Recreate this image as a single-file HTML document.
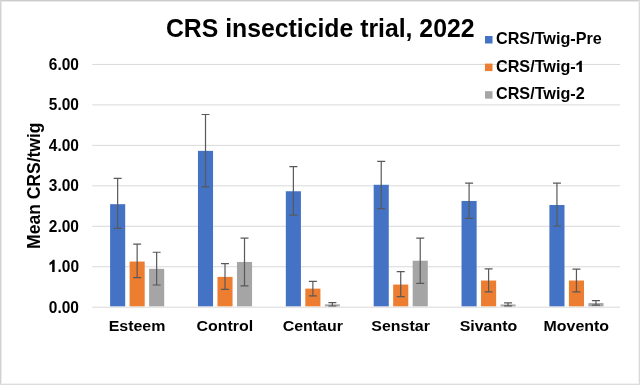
<!DOCTYPE html>
<html><head><meta charset="utf-8"><style>
html,body{margin:0;padding:0;background:#fff;}
svg{display:block;will-change:transform;}
text{font-family:"Liberation Sans",sans-serif;font-weight:bold;fill:#000;}
</style></head><body>
<svg width="640" height="385" viewBox="0 0 640 385">
<rect x="0" y="0" width="640" height="385" fill="#fff"/>
<line x1="92.3" y1="307.20" x2="620.2" y2="307.20" stroke="#D9D9D9" stroke-width="1"/>
<line x1="92.3" y1="266.74" x2="620.2" y2="266.74" stroke="#D9D9D9" stroke-width="1"/>
<line x1="92.3" y1="226.28" x2="620.2" y2="226.28" stroke="#D9D9D9" stroke-width="1"/>
<line x1="92.3" y1="185.82" x2="620.2" y2="185.82" stroke="#D9D9D9" stroke-width="1"/>
<line x1="92.3" y1="145.36" x2="620.2" y2="145.36" stroke="#D9D9D9" stroke-width="1"/>
<line x1="92.3" y1="104.90" x2="620.2" y2="104.90" stroke="#D9D9D9" stroke-width="1"/>
<line x1="92.3" y1="64.44" x2="620.2" y2="64.44" stroke="#D9D9D9" stroke-width="1"/>
<text transform="translate(79.00 312.70) scale(1.0 1.1)" text-anchor="end" font-size="15.5">0.00</text>
<text transform="translate(79.00 272.24) scale(1.0 1.1)" text-anchor="end" font-size="15.5">.00</text>
<path transform="translate(48.83 272.00) scale(15.500 -17.050)" d="M0.375 0.716V0H0.215V0.50C0.16 0.45 0.10 0.42 0.045 0.40V0.54C0.13 0.57 0.21 0.63 0.26 0.716Z" fill="#000"/>
<text transform="translate(79.00 231.78) scale(1.0 1.1)" text-anchor="end" font-size="15.5">2.00</text>
<text transform="translate(79.00 191.32) scale(1.0 1.1)" text-anchor="end" font-size="15.5">3.00</text>
<text transform="translate(79.00 150.86) scale(1.0 1.1)" text-anchor="end" font-size="15.5">4.00</text>
<text transform="translate(79.00 110.40) scale(1.0 1.1)" text-anchor="end" font-size="15.5">5.00</text>
<text transform="translate(79.00 69.94) scale(1.0 1.1)" text-anchor="end" font-size="15.5">6.00</text>
<rect x="110.10" y="204.18" width="15.1" height="102.12" fill="#4472C4"/>
<rect x="129.60" y="261.55" width="15.1" height="44.75" fill="#ED7D31"/>
<rect x="149.10" y="268.82" width="15.1" height="37.48" fill="#A5A5A5"/>
<path d="M117.65 178.33V228.42M113.65 178.33h8M113.65 228.42h8" stroke="#595959" stroke-width="1.2" fill="none"/>
<path d="M137.15 244.18V277.71M133.15 244.18h8M133.15 277.71h8" stroke="#595959" stroke-width="1.2" fill="none"/>
<path d="M156.65 252.26V284.98M152.65 252.26h8M152.65 284.98h8" stroke="#595959" stroke-width="1.2" fill="none"/>
<text transform="translate(137.03 331.00) scale(1.03 1.0)" text-anchor="middle" font-size="15.5">Esteem</text>
<rect x="197.96" y="150.86" width="15.1" height="155.44" fill="#4472C4"/>
<rect x="217.46" y="276.90" width="15.1" height="29.40" fill="#ED7D31"/>
<rect x="236.96" y="261.96" width="15.1" height="44.34" fill="#A5A5A5"/>
<path d="M205.51 114.50V186.81M201.51 114.50h8M201.51 186.81h8" stroke="#595959" stroke-width="1.2" fill="none"/>
<path d="M225.01 263.57V289.43M221.01 263.57h8M221.01 289.43h8" stroke="#595959" stroke-width="1.2" fill="none"/>
<path d="M244.51 238.12V285.79M240.51 238.12h8M240.51 285.79h8" stroke="#595959" stroke-width="1.2" fill="none"/>
<text transform="translate(224.89 331.00) scale(1.03 1.0)" text-anchor="middle" font-size="15.5">Control</text>
<rect x="285.82" y="191.26" width="15.1" height="115.04" fill="#4472C4"/>
<rect x="305.32" y="288.62" width="15.1" height="17.68" fill="#ED7D31"/>
<rect x="324.82" y="304.38" width="15.1" height="1.92" fill="#A5A5A5"/>
<path d="M293.37 166.61V215.09M289.37 166.61h8M289.37 215.09h8" stroke="#595959" stroke-width="1.2" fill="none"/>
<path d="M312.87 281.35V295.89M308.87 281.35h8M308.87 295.89h8" stroke="#595959" stroke-width="1.2" fill="none"/>
<path d="M332.37 302.56V305.99M328.37 302.56h8M328.37 305.99h8" stroke="#595959" stroke-width="1.2" fill="none"/>
<text transform="translate(312.75 331.00) scale(1.03 1.0)" text-anchor="middle" font-size="15.5">Centaur</text>
<rect x="373.68" y="184.79" width="15.1" height="121.51" fill="#4472C4"/>
<rect x="393.18" y="284.58" width="15.1" height="21.72" fill="#ED7D31"/>
<rect x="412.68" y="260.74" width="15.1" height="45.56" fill="#A5A5A5"/>
<path d="M381.23 161.36V208.63M377.23 161.36h8M377.23 208.63h8" stroke="#595959" stroke-width="1.2" fill="none"/>
<path d="M400.73 271.65V296.70M396.73 271.65h8M396.73 296.70h8" stroke="#595959" stroke-width="1.2" fill="none"/>
<path d="M420.23 238.12V283.37M416.23 238.12h8M416.23 283.37h8" stroke="#595959" stroke-width="1.2" fill="none"/>
<text transform="translate(400.61 331.00) scale(1.03 1.0)" text-anchor="middle" font-size="15.5">Senstar</text>
<rect x="461.54" y="200.95" width="15.1" height="105.35" fill="#4472C4"/>
<rect x="481.04" y="280.54" width="15.1" height="25.76" fill="#ED7D31"/>
<rect x="500.54" y="304.50" width="15.1" height="1.80" fill="#A5A5A5"/>
<path d="M469.09 183.18V218.32M465.09 183.18h8M465.09 218.32h8" stroke="#595959" stroke-width="1.2" fill="none"/>
<path d="M488.59 268.82V291.85M484.59 268.82h8M484.59 291.85h8" stroke="#595959" stroke-width="1.2" fill="none"/>
<path d="M508.09 302.96V305.79M504.09 302.96h8M504.09 305.79h8" stroke="#595959" stroke-width="1.2" fill="none"/>
<text transform="translate(488.47 331.00) scale(1.03 1.0)" text-anchor="middle" font-size="15.5">Sivanto</text>
<rect x="549.40" y="204.99" width="15.1" height="101.31" fill="#4472C4"/>
<rect x="568.90" y="280.54" width="15.1" height="25.76" fill="#ED7D31"/>
<rect x="588.40" y="303.08" width="15.1" height="3.22" fill="#A5A5A5"/>
<path d="M556.95 183.18V226.00M552.95 183.18h8M552.95 226.00h8" stroke="#595959" stroke-width="1.2" fill="none"/>
<path d="M576.45 269.03V291.85M572.45 269.03h8M572.45 291.85h8" stroke="#595959" stroke-width="1.2" fill="none"/>
<path d="M595.95 300.62V305.10M591.95 300.62h8M591.95 305.10h8" stroke="#595959" stroke-width="1.2" fill="none"/>
<text transform="translate(576.33 331.00) scale(1.03 1.0)" text-anchor="middle" font-size="15.5">Movento</text>
<rect x="485" y="36.00" width="7.5" height="7.5" fill="#4472C4"/>
<text transform="translate(496.00 44.00) scale(1.025 1.0)" text-anchor="start" font-size="15.8">CRS/Twig-Pre</text>
<rect x="485" y="63.60" width="7.5" height="7.5" fill="#ED7D31"/>
<text transform="translate(496.00 71.60) scale(1.025 1.0)" text-anchor="start" font-size="15.8">CRS/Twig-</text>
<path transform="translate(575.76 72.00) scale(16.195 -15.800)" d="M0.375 0.716V0H0.215V0.50C0.16 0.45 0.10 0.42 0.045 0.40V0.54C0.13 0.57 0.21 0.63 0.26 0.716Z" fill="#000"/>
<rect x="485" y="91.20" width="7.5" height="7.5" fill="#A5A5A5"/>
<text transform="translate(496.00 99.20) scale(1.025 1.0)" text-anchor="start" font-size="15.8">CRS/Twig-2</text>
<text transform="translate(320.20 37.00) scale(1.0 1.03)" text-anchor="middle" font-size="24.8">CRS insecticide trial, 2022</text>
<text transform="translate(39.70 185.70) rotate(-90)" text-anchor="middle" font-size="17.5">Mean CRS/twig</text>
<path d="M0 1.5H640" stroke="#E8E8E8"/><path d="M1.5 0V385" stroke="#EAEAEA"/><path d="M0 383.5H640" stroke="#F3F3F3"/><path d="M638.5 0V385" stroke="#F1F1F1"/><path d="M0 0.5H640" stroke="#CDCDCD"/><path d="M0.5 0V385" stroke="#D2D2D2"/><path d="M0 384.5H640" stroke="#DCDCDC"/><path d="M639.5 0V385" stroke="#DADADA"/>
</svg>
</body></html>
